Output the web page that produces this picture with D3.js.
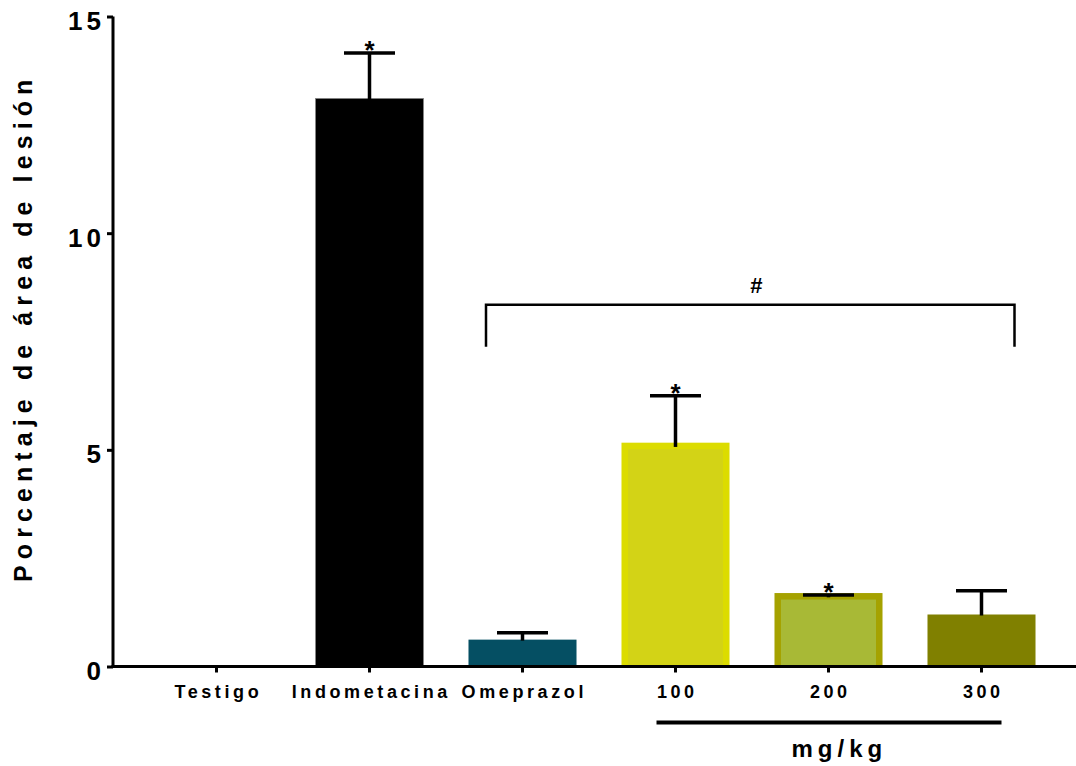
<!DOCTYPE html>
<html>
<head>
<meta charset="utf-8">
<script src="https://cdn.jsdelivr.net/npm/d3@7"></script>
<style>
  html, body { margin: 0; padding: 0; background: #fff; }
  svg { display: block; font-family: "Liberation Sans", Arial, sans-serif; font-weight: bold; }
</style>
</head>
<body>
<svg id="chart" width="1076" height="766"></svg>
<script>
// data
var categories = ["Testigo", "Indometacina", "Omeprazol", "100", "200", "300"];
var means = [0, 13.11, 0.62, 5.09, 1.62, 1.2];
var sems = [0, 1.05, 0.16, 1.16, 0.03, 0.55];
var stars = [false, true, false, true, true, false];
var fills = ["#ffffff", "#000000", "#054f63", "#d3d316", "#a8b936", "#808000"];
var borders = [null, null, null, "#dcdc00", "#a5a200", null];
var yTicks = [0, 5, 10, 15];
var bracketTop = 8.35, bracketBottom = 7.38;

var svg = d3.select("#chart");

var x = d3.scaleBand()
  .domain(categories)
  .range([140, 1058])
  .paddingInner(0.294)
  .paddingOuter(0.147);

var y = d3.scaleLinear()
  .domain([0, 15])
  .range([666.5, 16.5]);

var bw = x.bandwidth();
var data = categories.map(function(c, i) {
  return {cat: c, mean: means[i], sem: sems[i], star: stars[i], fill: fills[i], border: borders[i]};
});

// bars
var bars = svg.append("g");
data.forEach(function(d) {
  if (d.mean <= 0) return;
  if (d.border) {
    // outer border color, inner fill inset
    bars.append("rect")
      .attr("x", x(d.cat))
      .attr("y", y(d.mean) - 3.25)
      .attr("width", bw)
      .attr("height", y(0) - y(d.mean) + 3.25)
      .attr("fill", d.border);
    bars.append("rect")
      .attr("x", x(d.cat) + 6.5)
      .attr("y", y(d.mean) + 3.25)
      .attr("width", bw - 13)
      .attr("height", y(0) - y(d.mean) - 3.25)
      .attr("fill", d.fill);
  } else {
    bars.append("rect")
      .attr("x", x(d.cat))
      .attr("y", y(d.mean))
      .attr("width", bw)
      .attr("height", y(0) - y(d.mean))
      .attr("fill", d.fill)
      .attr("stroke", d.cat == "Indometacina" ? "#888" : "none")
      .attr("stroke-width", 0.8);
  }
});

// error bars (upper only)
var err = svg.append("g").attr("stroke", "#000").attr("stroke-width", 3.5);
data.forEach(function(d) {
  if (d.mean <= 0) return;
  var cx = x(d.cat) + bw / 2;
  err.append("line")
    .attr("x1", cx).attr("x2", cx)
    .attr("y1", y(d.mean) + 1).attr("y2", y(d.mean + d.sem));
  err.append("line")
    .attr("x1", cx - 25.5).attr("x2", cx + 25.5)
    .attr("y1", y(d.mean + d.sem)).attr("y2", y(d.mean + d.sem));
});

// asterisks
svg.append("g").selectAll("text")
  .data(data.filter(function(d) { return d.star; }))
  .enter().append("text")
  .attr("x", function(d) { return x(d.cat) + bw / 2; })
  .attr("y", function(d) { return y(d.mean + d.sem) + 6; })
  .attr("text-anchor", "middle")
  .style("font-size", "26px")
  .text("*");

// y axis
var yAxis = svg.append("g")
  .attr("transform", "translate(113,0)")
  .call(d3.axisLeft(y).tickValues(yTicks).tickSize(6).tickSizeOuter(0).tickFormat(d3.format("d")));
yAxis.select(".domain").attr("stroke-width", 3).attr("d", "M0," + (y(0) + 1.5) + "V" + y(15));
yAxis.selectAll(".tick line").attr("stroke-width", 3);
yAxis.selectAll(".tick text")
  .attr("x", -8)
  .attr("dy", null)
  .attr("y", 13)
  .attr("fill", "#000")
  .style("font-family", "'Liberation Sans', Arial, sans-serif")
  .style("font-weight", "bold")
  .style("font-size", "26px")
  .style("letter-spacing", "4px");

// x axis
var xAxis = svg.append("g")
  .attr("transform", "translate(0," + y(0) + ")")
  .call(d3.axisBottom(x).tickSize(6).tickSizeOuter(0));
xAxis.select(".domain").remove();
xAxis.append("line")
  .attr("x1", 111.5).attr("x2", 1076)
  .attr("stroke", "#000").attr("stroke-width", 3);
xAxis.selectAll(".tick line").attr("stroke-width", 3);
xAxis.selectAll(".tick text")
  .attr("y", 31.5)
  .attr("dy", null)
  .attr("dx", 1.8)
  .attr("fill", "#000")
  .style("font-family", "'Liberation Sans', Arial, sans-serif")
  .style("font-weight", "bold")
  .style("font-size", "18px")
  .style("letter-spacing", "3.6px");

// y title
svg.append("text")
  .attr("transform", "rotate(-90)")
  .attr("x", -582)
  .attr("y", 32)
  .attr("text-anchor", "start")
  .style("font-size", "25px")
  .style("letter-spacing", "6.1px")
  .text("Porcentaje de área de lesión");

// bracket with #
var bx1 = x("Omeprazol") + bw / 2 - 36.5;
var bx2 = x("300") + bw / 2 + 33;
svg.append("path")
  .attr("d", "M" + bx1 + "," + y(bracketBottom) + "V" + y(bracketTop) + "H" + bx2 + "V" + y(bracketBottom))
  .attr("fill", "none")
  .attr("stroke", "#000")
  .attr("stroke-width", 2.5);
svg.append("text")
  .attr("x", (bx1 + bx2) / 2 + 6)
  .attr("y", y(bracketTop) - 12)
  .attr("text-anchor", "middle")
  .style("font-size", "22px")
  .text("#");

// dose group line
var c100 = x("100") + bw / 2, c300 = x("300") + bw / 2, c200 = x("200") + bw / 2;
svg.append("line")
  .attr("x1", c100 - 19).attr("x2", c300 + 20)
  .attr("y1", 722.5).attr("y2", 722.5)
  .attr("stroke", "#000").attr("stroke-width", 4);
svg.append("text")
  .attr("x", c200 - 37)
  .attr("y", 757)
  .attr("text-anchor", "start")
  .style("font-size", "24px")
  .style("letter-spacing", "5px")
  .text("mg/kg");
</script>
</body>
</html>
